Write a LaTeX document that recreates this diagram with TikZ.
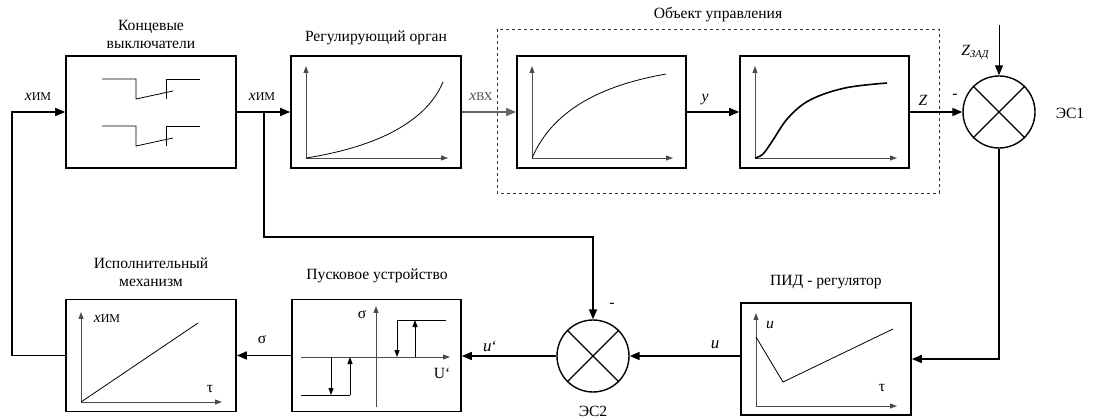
\documentclass[tikz,border=0pt]{standalone}
\usepackage{fontspec}
\setmainfont{Liberation Serif}
\usetikzlibrary{arrows.meta}
\begin{document}
\begin{tikzpicture}[x=1pt,y=-1pt,
  blk/.style={draw,line width=1.6pt,minimum width=170pt,minimum height=112pt,inner sep=0pt},
  conn/.style={line width=1.6pt},
  arr/.style={conn,-{Triangle[length=10pt,width=8pt]}},
  axis/.style={draw=black!70,line width=0.9pt,-{Triangle[length=7pt,width=5pt]}},
  crv/.style={line width=0.8pt},
  lbl/.style={font=\fontsize{15.6}{18}\selectfont,align=center,inner sep=0pt},
  it/.style={font=\itshape\fontsize{15.6}{18}\selectfont},
  sumnode/.style={draw,circle,line width=1.4pt,minimum size=72pt,inner sep=0pt}]
\useasboundingbox (0,0) rectangle (1094,419);
\newcommand{\xim}{\textit{x}{\fontsize{12}{12}\selectfont ИМ}}
% blocks
\node[blk] (kv) at (151,112) {};
\node[blk] (ro) at (376,112) {};
\node[blk,minimum width=169pt] (o1) at (601.5,112) {};
\node[blk,minimum width=169pt] (o2) at (824.5,112) {};
\node[blk] (pid) at (826,359) {};
\node[blk,minimum width=169pt] (pu) at (376.5,355.5) {};
\node[blk] (im) at (151,355.5) {};
\node[sumnode] (es1) at (999,112) {};
\node[sumnode] (es2) at (593,356) {};
\draw[line width=1.2pt] (es1.north west)--(es1.south east) (es1.north east)--(es1.south west);
\draw[line width=1.2pt] (es2.north west)--(es2.south east) (es2.north east)--(es2.south west);
% dashed object box
\draw[dashed,line width=0.8pt,black!80] (497,29) rectangle (939,193);
% titles
\node[lbl] (t1) at (151,34) {Концевые\\выключатели};
\node[lbl] (t2) at (376,38) {Регулирующий орган};
\node[lbl] (t3) at (718,15) {Объект управления};
\node[lbl] (t4) at (826,282) {ПИД - регулятор};
\node[lbl] (t5) at (377,276) {Пусковое устройство};
\node[lbl] (t6) at (151,272) {Исполнительный\\механизм};
% limit switches
\foreach \dy in {0,47}{
  \draw[line width=0.8pt] (102,79+\dy)--(136,79+\dy)--(136,99+\dy)--(173,91+\dy);
  \draw[line width=0.8pt] (166,99+\dy)--(166,79+\dy)--(200,79+\dy);
}
% graph in regulating organ
\draw[axis] (306,158)--(306,66);
\draw[axis] (306,158)--(448,158);
\draw[crv] (306,158) .. controls (370,148) and (425,125) .. (443,82);
% object 1
\draw[axis] (532,158)--(532,66);
\draw[axis] (532,158)--(673,158);
\draw[crv] (532,158) .. controls (555,105) and (610,84) .. (666,74);
% object 2
\draw[axis] (755,158)--(755,66);
\draw[axis] (755,158)--(897,158);
\draw[line width=1.6pt] plot[smooth,tension=0.6] coordinates {(755,158) (763,154) (773,140) (788,118) (810,100) (845,88) (887,83)};
% PID
\draw[axis] (756,406)--(756,313);
\draw[axis] (756,406)--(897,406);
\draw[crv] (756,337)--(783,382)--(893,329);
\node[lbl,it] (pu1) at (770,325) {u};
\node[lbl] (pt1) at (882,388) {τ};
% starter
\draw[axis] (301,357)--(450,357);
\draw[axis] (376,407)--(376,306);
\node[lbl] (ps) at (362,315) {σ};
\node[lbl] (pU) at (442,373) {U`};
\draw[crv] (446,320)--(397,320);
\draw[axis,black] (397,320)--(397,357);
\draw[axis,black] (415,357)--(415,320);
\draw[crv] (301,395)--(350,395);
\draw[axis,black] (331,357)--(331,395);
\draw[axis,black] (350,395)--(350,357);
% actuator
\draw[axis] (81,402)--(81,312);
\draw[axis] (81,402)--(222,402);
\draw[crv] (81,402)--(198,323);
\node[lbl] (ix) at (107,319) {\xim};
\node[lbl] (it) at (210,389) {τ};
% connectors
\coordinate (lc1) at (12,355.5);
\coordinate (lc2) at (12,112);
\draw[arr] (im.west) -- (lc1) -- (lc2) -- (kv.west);
\draw[arr] (kv.east) -- (ro.west);
\coordinate (br) at (264,112);
\coordinate (br1) at (264,237);
\coordinate (br2) at (593,237);
\draw[arr] (br) -- (br1) -- (br2) -- (es2.north);
\draw[line width=1.4pt,black!60,-{Triangle[length=10pt,width=8pt]}] (ro.east) -- (o1.west);
\draw[arr] (o1.east) -- (o2.west);
\draw[arr] (o2.east) -- (es1.west);
\coordinate (zt) at (999,25);
\draw[line width=1pt,-{Triangle[length=10pt,width=8pt]}] (zt) -- (es1.north);
\coordinate (ec) at (999,359);
\draw[arr] (es1.south) -- (ec) -- (pid.east);
\draw[arr] (pid.west |- es2.east) -- (es2.east);
\draw[arr] (es2.west) -- (pu.east |- es2.west);
\draw[arr] (pu.west) -- (im.east);
% connector labels
\node[lbl] (l1) at (38,97) {\xim};
\node[lbl] (l2) at (262,97) {\xim};
\node[lbl,black!70] (l3) at (481,97) {\textit{x}{\fontsize{12}{12}\selectfont ВХ}};
\node[lbl,it] (l4) at (705,100) {y};
\node[lbl,it] (l5) at (923,100) {Z};
\node[lbl] (l6) at (955,96) {-};
\node[lbl] (l7) at (975,52) {\textit{Z}{\fontsize{10.5}{10.5}\selectfont\itshape\raisebox{-2pt}{ЗАД}}};
\node[lbl] (l8) at (1070,113) {ЭС1};
\node[lbl,font=\itshape\fontsize{17}{18}\selectfont] (l9) at (715,345) {u};
\node[lbl] (l10) at (490,346) {\textit{\fontsize{17}{18}\selectfont u}`};
\node[lbl] (l11) at (612,305) {-};
\node[lbl] (l12) at (262,340) {σ};
\node[lbl] (l13) at (593,411) {ЭС2};
\end{tikzpicture}
\end{document}
